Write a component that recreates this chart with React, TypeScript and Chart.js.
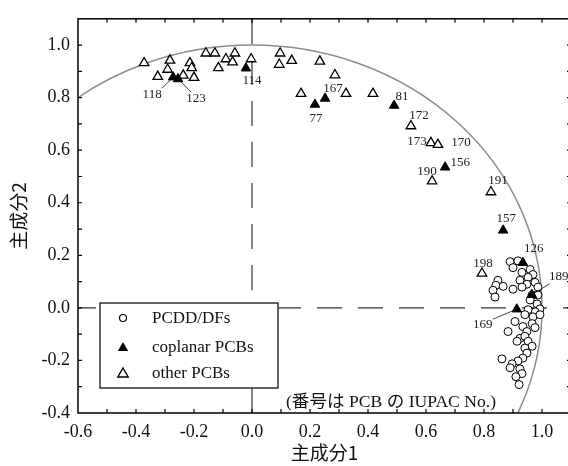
import { useEffect, useRef } from "react";
import { Chart, registerables } from "chart.js";

Chart.register(...registerables);

// ---------- data ----------
const seriesNames = ["PCDD/DFs", "coplanar PCBs", "other PCBs"];

const xTickValues = [-0.6, -0.4, -0.2, 0.0, 0.2, 0.4, 0.6, 0.8, 1.0];
const yTickValues = [-0.4, -0.2, 0.0, 0.2, 0.4, 0.6, 0.8, 1.0];
const xFrameTicks = [-0.5, -0.4, -0.3, -0.2, -0.1, 0.0, 0.1, 0.2, 0.3, 0.4, 0.5, 0.6, 0.7, 0.8, 0.9, 1.0];
const yFrameTicks = [-0.3, -0.2, -0.1, 0.0, 0.1, 0.2, 0.3, 0.4, 0.5, 0.6, 0.7, 0.8, 0.9, 1.0];

const pcddX = [
  0.890, 0.917, 0.900, 0.931, 0.959, 0.969, 0.952, 0.924, 0.948, 0.976,
  0.986, 0.848, 0.841, 0.831, 0.838, 0.866, 0.900, 0.931, 0.966, 0.986,
  0.959, 0.983, 0.993, 0.976, 0.952, 0.941, 0.969, 0.993, 0.907, 0.934,
  0.966, 0.976, 0.883, 0.948, 0.924, 0.941, 0.914, 0.952, 0.966, 0.941,
  0.948, 0.934, 0.862, 0.917, 0.897, 0.890, 0.924, 0.931, 0.910, 0.921,
];
const pcddY = [
  0.176, 0.179, 0.153, 0.135, 0.146, 0.127, 0.116, 0.105, 0.090, 0.097,
  0.079, 0.105, 0.086, 0.067, 0.041, 0.082, 0.071, 0.079, 0.049, 0.049,
  0.030, 0.015, -0.004, -0.015, -0.007, -0.026, -0.034, -0.026, -0.052, -0.071,
  -0.060, -0.075, -0.090, -0.090, -0.116, -0.108, -0.127, -0.127, -0.146, -0.153,
  -0.172, -0.191, -0.194, -0.202, -0.213, -0.228, -0.232, -0.250, -0.262, -0.292,
];

const coplanarIds = ["118", "123", "114", "77", "167", "81", "156", "157", "126", "189", "169"];
const coplanarX = [-0.272, -0.255, -0.021, 0.217, 0.252, 0.490, 0.666, 0.866, 0.934, 0.965, 0.913];
const coplanarY = [0.878, 0.871, 0.912, 0.774, 0.797, 0.770, 0.535, 0.295, 0.172, 0.050, -0.005];

const otherIds = [
  "", "", "", "", "", "", "", "", "", "", "", "", "", "", "", "", "", "",
  "", "", "", "", "", "172", "173", "170", "190", "191", "198",
];
const otherX = [
  -0.372, -0.325, -0.283, -0.291, -0.237, -0.214, -0.208, -0.200, -0.159, -0.128,
  -0.116, -0.090, -0.067, -0.059, -0.003, 0.097, 0.094, 0.137, 0.234, 0.286,
  0.169, 0.324, 0.417, 0.548, 0.617, 0.641, 0.621, 0.824, 0.793,
];
const otherY = [
  0.932, 0.880, 0.942, 0.907, 0.885, 0.932, 0.913, 0.876, 0.969, 0.969,
  0.913, 0.947, 0.935, 0.969, 0.947, 0.969, 0.926, 0.941, 0.938, 0.886,
  0.815, 0.815, 0.815, 0.692, 0.628, 0.621, 0.482, 0.441, 0.131,
];

const CIRCLE_RADIUS = 1.0;
const noteText = "(番号は PCB の IUPAC No.)";
const xTitle = "主成分1";
const yTitle = "主成分2";

// label placement (pixel offsets from the marker)
const labelPlacement: Record<string, { dx: number; dy: number; leader?: [number, number] }> = {
  "118": { dx: -21, dy: 17, leader: [-11, 11] },
  "123": { dx: 18, dy: 20, leader: [13, 13] },
  "114": { dx: 6, dy: 12 },
  "77": { dx: 1, dy: 14 },
  "167": { dx: 8, dy: -10 },
  "81": { dx: 8, dy: -9 },
  "156": { dx: 15, dy: -5 },
  "157": { dx: 3, dy: -12 },
  "126": { dx: 11, dy: -14 },
  "189": { dx: 27, dy: -18, leader: [18, -11] },
  "169": { dx: -34, dy: 15, leader: [-24, 10] },
  "172": { dx: 8, dy: -10 },
  "173": { dx: -14, dy: -1 },
  "170": { dx: 23, dy: -2 },
  "190": { dx: -5, dy: -10 },
  "191": { dx: 7, dy: -11 },
  "198": { dx: 1, dy: -10 },
};

function triPath(ctx: CanvasRenderingContext2D, x: number, y: number, r: number) {
  ctx.beginPath();
  let rad = 0;
  ctx.moveTo(x + Math.sin(rad) * r, y - Math.cos(rad) * r);
  rad += (2 * Math.PI) / 3;
  ctx.lineTo(x + Math.sin(rad) * r, y - Math.cos(rad) * r);
  rad += (2 * Math.PI) / 3;
  ctx.lineTo(x + Math.sin(rad) * r, y - Math.cos(rad) * r);
  ctx.closePath();
}

const decorPlugin = {
  id: "decor",
  beforeDatasetsDraw(chart: any) {
    const { ctx, chartArea: a, scales } = chart;
    const xs = scales.x, ys = scales.y;
    ctx.save();
    ctx.beginPath();
    ctx.rect(a.left, a.top, a.right - a.left, a.bottom - a.top);
    ctx.clip();
    const cx = xs.getPixelForValue(0), cy = ys.getPixelForValue(0);
    const rx = xs.getPixelForValue(CIRCLE_RADIUS) - cx;
    const ry = cy - ys.getPixelForValue(CIRCLE_RADIUS);
    ctx.beginPath();
    ctx.ellipse(cx, cy, rx, ry, 0, 0, Math.PI * 2);
    ctx.strokeStyle = "#8c8c8c";
    ctx.lineWidth = 1.5;
    ctx.stroke();

    ctx.strokeStyle = "#333";
    ctx.lineWidth = 1.2;
    ctx.setLineDash([25, 16]);
    ctx.lineDashOffset = 7;
    ctx.beginPath();
    ctx.moveTo(a.left, cy);
    ctx.lineTo(a.right, cy);
    ctx.stroke();
    ctx.lineDashOffset = 0;
    ctx.beginPath();
    ctx.moveTo(cx, a.bottom);
    ctx.lineTo(cx, a.top);
    ctx.stroke();
    ctx.restore();
  },
  afterDatasetsDraw(chart: any) {
    const { ctx, chartArea: a, scales } = chart;
    const xs = scales.x, ys = scales.y;
    ctx.save();

    // point labels
    ctx.font = "13px 'Liberation Serif'";
    ctx.fillStyle = "#222";
    ctx.strokeStyle = "#111";
    ctx.lineWidth = 0.8;
    ctx.textAlign = "center";
    ctx.textBaseline = "middle";
    const drawLabels = (ids: string[], xv: number[], yv: number[]) => {
      ids.forEach((id, i) => {
        if (!id) return;
        const p = labelPlacement[id];
        if (!p) return;
        const px = xs.getPixelForValue(xv[i]);
        const py = ys.getPixelForValue(yv[i]);
        if (p.leader) {
          ctx.beginPath();
          ctx.moveTo(px, py);
          ctx.lineTo(px + p.leader[0], py + p.leader[1]);
          ctx.stroke();
        }
        ctx.fillText(id, px + p.dx, py + p.dy);
      });
    };
    drawLabels(coplanarIds, coplanarX, coplanarY);
    drawLabels(otherIds, otherX, otherY);

    // legend
    const lx = a.left + 22, ly = a.bottom - 110, lw = 178, lh = 85;
    ctx.fillStyle = "#fff";
    ctx.fillRect(lx, ly, lw, lh);
    ctx.strokeStyle = "#000";
    ctx.lineWidth = 1.2;
    ctx.strokeRect(lx, ly, lw, lh);
    const rows = [ly + 15, ly + 44, ly + 70];
    const sx = lx + 23;
    ctx.lineWidth = 1.2;
    ctx.beginPath();
    ctx.arc(sx, rows[0], 3.5, 0, Math.PI * 2);
    ctx.fillStyle = "#fff";
    ctx.fill();
    ctx.stroke();
    triPath(ctx, sx, rows[1] + 1, 6);
    ctx.fillStyle = "#000";
    ctx.fill();
    triPath(ctx, sx, rows[2] + 1, 6);
    ctx.fillStyle = "#fff";
    ctx.fill();
    ctx.lineWidth = 1.4;
    ctx.stroke();
    ctx.font = "17px 'Liberation Serif'";
    ctx.fillStyle = "#111";
    ctx.textAlign = "left";
    ctx.textBaseline = "middle";
    seriesNames.forEach((n, i) => ctx.fillText(n, lx + 52, rows[i] + 1));

    // note
    ctx.font = "17.6px 'Liberation Serif', 'Noto Sans CJK JP'";
    ctx.fillText(noteText, a.left + 208, a.bottom - 11);

    // frame with inward ticks
    ctx.strokeStyle = "#000";
    ctx.lineWidth = 1.5;
    ctx.strokeRect(a.left, a.top, a.right - a.left, a.bottom - a.top);
    ctx.lineWidth = 1.2;
    ctx.beginPath();
    const tl = 4;
    xFrameTicks.forEach((v) => {
      const px = xs.getPixelForValue(v);
      ctx.moveTo(px, a.bottom);
      ctx.lineTo(px, a.bottom - tl);
      ctx.moveTo(px, a.top);
      ctx.lineTo(px, a.top + tl);
    });
    yFrameTicks.forEach((v) => {
      const py = ys.getPixelForValue(v);
      ctx.moveTo(a.left, py);
      ctx.lineTo(a.left + tl, py);
      ctx.moveTo(a.right, py);
      ctx.lineTo(a.right - tl, py);
    });
    ctx.stroke();
    ctx.restore();
  },
};

export default function App() {
  const ref = useRef<HTMLCanvasElement | null>(null);
  useEffect(() => {
    if (!ref.current) return;
    const toPts = (xv: number[], yv: number[]) => xv.map((x, i) => ({ x, y: yv[i] }));
    const chart = new Chart(ref.current, {
      type: "scatter",
      data: {
        datasets: [
          {
            label: seriesNames[1],
            data: toPts(coplanarX, coplanarY),
            pointStyle: "triangle",
            pointRadius: 5.5,
            backgroundColor: "#000",
            borderColor: "#000",
            borderWidth: 1,
            order: 0,
          },
          {
            label: seriesNames[0],
            data: toPts(pcddX, pcddY),
            pointStyle: "circle",
            pointRadius: 4,
            backgroundColor: "#fff",
            borderColor: "#000",
            borderWidth: 1,
            order: 1,
          },
          {
            label: seriesNames[2],
            data: toPts(otherX, otherY),
            pointStyle: "triangle",
            pointRadius: 5.5,
            backgroundColor: "#fff",
            borderColor: "#000",
            borderWidth: 1.3,
            order: 2,
          },
        ],
      },
      options: {
        responsive: false,
        animation: false,
        devicePixelRatio: 1,
        layout: { autoPadding: false, padding: { top: 12, right: 1, left: 0, bottom: 0 } },
        plugins: { legend: { display: false }, tooltip: { enabled: false } },
        scales: {
          x: {
            type: "linear",
            min: -0.6,
            max: 1.1,
            grid: { display: false, drawTicks: false },
            border: { display: false },
            afterBuildTicks: (s: any) => {
              s.ticks = xTickValues.map((v) => ({ value: v }));
            },
            afterFit: (s: any) => {
              s.height = 53;
            },
            ticks: {
              padding: 8,
              color: "#111",
              font: { family: "'Liberation Serif'", size: 18 },
              maxRotation: 0,
              callback: (v: any) => Number(v).toFixed(1),
            },
            title: {
              display: true,
              text: xTitle,
              color: "#111",
              font: { family: "'Noto Sans CJK JP'", size: 19 },
              padding: { top: 0, bottom: 2 },
            },
          },
          y: {
            type: "linear",
            min: -0.4,
            max: 1.1,
            grid: { display: false, drawTicks: false },
            border: { display: false },
            afterBuildTicks: (s: any) => {
              s.ticks = yTickValues.map((v) => ({ value: v }));
            },
            afterFit: (s: any) => {
              s.width = 78;
            },
            ticks: {
              padding: 8,
              color: "#111",
              font: { family: "'Liberation Serif'", size: 18 },
              callback: (v: any) => Number(v).toFixed(1),
            },
            title: {
              display: true,
              text: yTitle,
              color: "#111",
              font: { family: "'Noto Sans CJK JP'", size: 19 },
              padding: { top: 7, bottom: 0 },
            },
          },
        },
      },
      plugins: [decorPlugin],
    });
    return () => chart.destroy();
  }, []);
  return (
    <div style={{ position: "absolute", left: 0, top: 0, width: 568, height: 466, overflow: "hidden", background: "#fff" }}>
      <canvas ref={ref} width={572} height={466} style={{ display: "block" }} />
    </div>
  );
}
